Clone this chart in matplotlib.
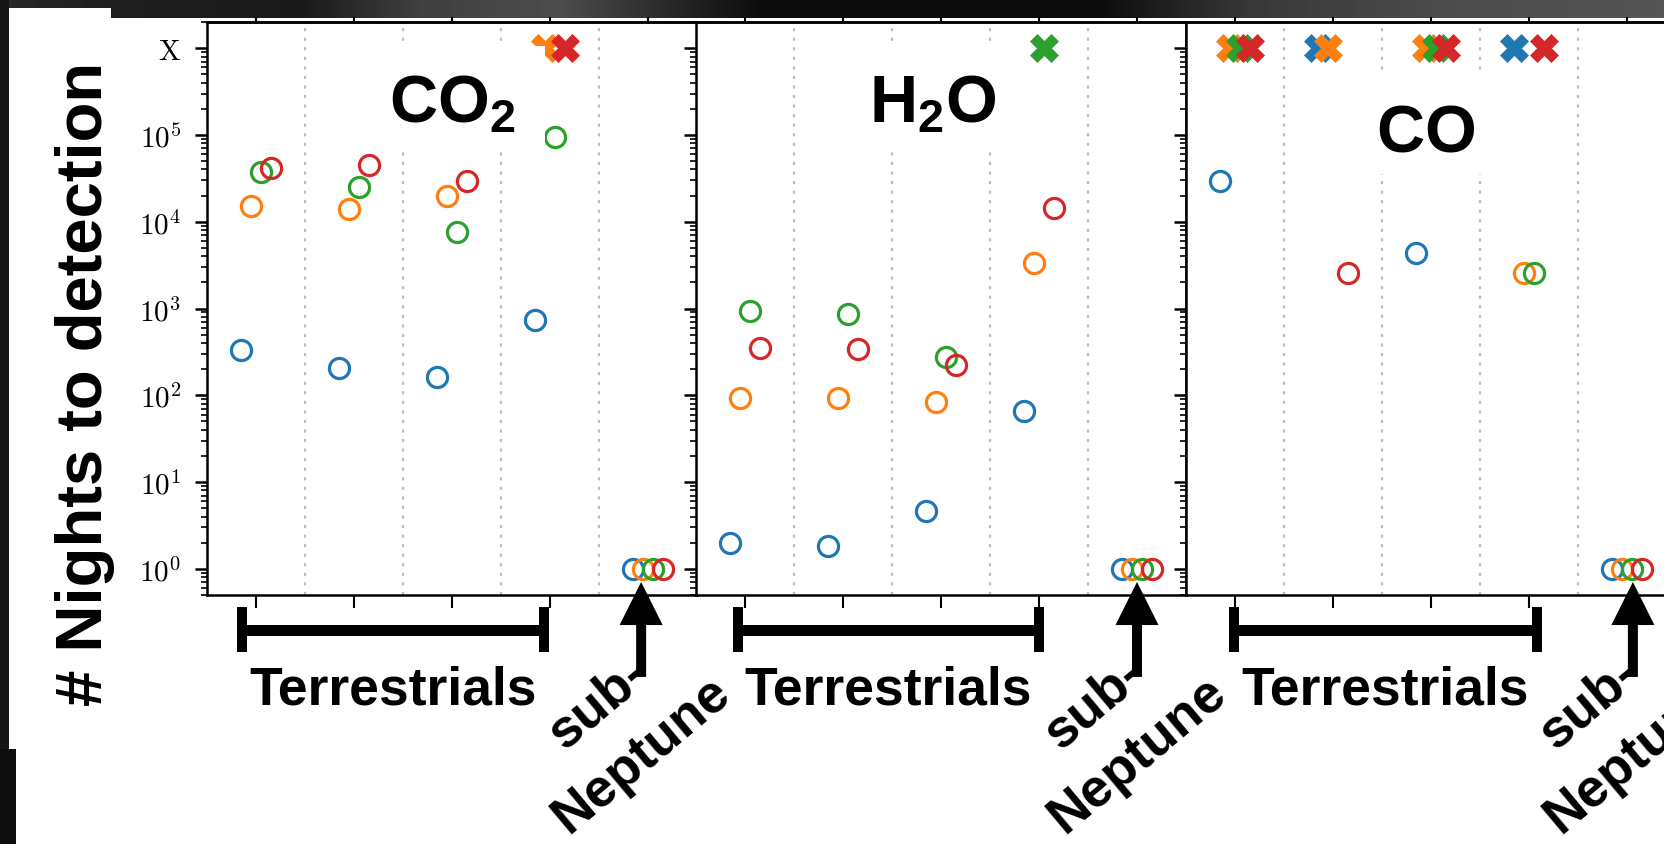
import numpy as np
import matplotlib
matplotlib.use('Agg')
import matplotlib.pyplot as plt
import matplotlib.transforms as mtransforms
from matplotlib.patches import Rectangle
from matplotlib.ticker import NullFormatter, LogLocator

plt.rcParams['font.family'] = ['Liberation Sans', 'DejaVu Sans']
plt.rcParams['mathtext.fontset'] = 'cm'
plt.rcParams['mathtext.bf'] = 'Liberation Sans:bold'
plt.rcParams['mathtext.rm'] = 'Liberation Sans'
plt.rcParams['mathtext.it'] = 'Liberation Sans:italic'

# ---------------- data ----------------
# groups: four terrestrial planets + one sub-Neptune
group_pos = [0, 1, 2, 3, 4]
panel_titles = [r'$\mathbf{CO_2}$', r'$\mathbf{H_2O}$', r'$\mathbf{CO}$']
series_colors = ['#1f77b4', '#ff7f0e', '#2ca02c', '#d62728']
# 'X' = not detected (plotted on the "X" row), None = no point
co2_blue = [330, 205, 163, 730, 1]
co2_orange = [15000, 14000, 19800, 'X', 1]
co2_green = [37000, 25000, 7600, 95000, 1]
co2_red = [41500, 45000, 29500, 'X', 1]

h2o_blue = [2.0, 1.85, 4.7, 66, 1]
h2o_orange = [93, 93, 83, 3300, 1]
h2o_green = [940, 860, 275, 'X', 1]
h2o_red = [350, 338, 223, 14400, 1]

co_blue = [29600, 'X', 4400, 'X', 1]
co_orange = ['X', 'X', 'X', 2570, 1]
co_green = ['X', None, 'X', 2570, 1]
co_red = ['X', 2570, 'X', 'X', 1]

panels = [
    [co2_blue, co2_orange, co2_green, co2_red],
    [h2o_blue, h2o_orange, h2o_green, h2o_red],
    [co_blue, co_orange, co_green, co_red],
]
ytick_values = [1, 10, 100, 1e3, 1e4, 1e5, 1e6]
ytick_labels = [r'$10^{0}$', r'$10^{1}$', r'$10^{2}$', r'$10^{3}$',
                r'$10^{4}$', r'$10^{5}$', r'$\mathrm{X}$']
nondet_value = ytick_values[-1]
ylabel_text = '# Nights to detection'
bracket_text = 'Terrestrials'
arrow_text = 'sub-\nNeptune'

# ---------------- layout ----------------
W, H = 1665, 845
fig = plt.figure(figsize=(W / 100, H / 100), dpi=100)
fig.patch.set_facecolor('white')

def px_rect(x0, y0, x1, y1, color, z=-5):
    fig.add_artist(Rectangle((x0 / W, 1 - y1 / H), (x1 - x0) / W, (y1 - y0) / H,
                             transform=fig.transFigure, facecolor=color,
                             edgecolor='none', zorder=z))

# dark slide background strips
bg = fig.add_axes([0, 1 - 19 / H, 1, 19 / H], zorder=-10)
ctrl_x = [0, 120, 300, 420, 560, 700, 760, 1100, 1250, 1450, 1665]
ctrl_g = [0.16, 0.12, 0.10, 0.25, 0.30, 0.12, 0.05, 0.05, 0.22, 0.30, 0.33]
grad = np.interp(np.arange(W), ctrl_x, ctrl_g)
bg.imshow(grad[None, :], cmap='gray', vmin=0, vmax=1, aspect='auto',
          extent=[0, W, 0, 1])
bg.set_axis_off()
px_rect(0, 0, 9, 750, '#161616')
px_rect(0, 750, 16, H, '#0d0d0d')
px_rect(9, 8.5, 111, 750, 'white', z=-4)

lefts = [207, 696, 1186]
pw = 490
top, bottom = 23, 596
offsets = [-0.15, -0.05, 0.05, 0.15]
title_pos = [(0.50, 0.827), (0.484, 0.827), (0.488, 0.775)]
# white backgrounds behind titles, pixel boxes (x0, y0, x1, y1)
title_boxes = [(361, 47, 545, 148), (845, 47, 1021, 147), (1349, 75, 1503, 175)]
bracket_x0 = [-0.14, -0.07, -0.01]
bracket_x1 = [2.94, 3.00, 3.08]
arrow_x = [3.93, 4.00, 4.06]

for p, series in enumerate(panels):
    L = lefts[p]
    ax = fig.add_axes([L / W, 1 - bottom / H, pw / W, (bottom - top) / H])
    ax.set_yscale('log')
    ax.set_ylim(0.5, 2e6)
    ax.set_xlim(-0.5, 4.5)
    for s in ax.spines.values():
        s.set_linewidth(1.8)

    for xv in [0.5, 1.5, 2.5, 3.5]:
        ax.axvline(xv, color='#bdbdbd', lw=1.6, ls=(0, (1.4, 2.9)), zorder=1)

    for i, vals in enumerate(series):
        c = series_colors[i]
        cx, cy, xx = [], [], []
        for g, v in zip(group_pos, vals):
            if v is None:
                continue
            if v == 'X':
                xx.append(g + offsets[i])
            else:
                cx.append(g + offsets[i])
                cy.append(v)
        ax.plot(cx, cy, 'o', mfc='none', mec=c, ms=14.5, mew=2.3, ls='none',
                zorder=3, clip_on=False)
        if xx:
            ax.plot(xx, [nondet_value] * len(xx), 'X', color=c, mec=c, ms=20,
                    mew=0.5, ls='none', zorder=3, clip_on=False)

    # ticks
    ax.set_xticks(group_pos)
    ax.set_xticklabels([])
    ax.tick_params(axis='x', which='major', direction='out', length=9.4,
                   width=1.5, top=False, bottom=True)
    axt = ax.secondary_xaxis('top')
    axt.set_xticks(group_pos)
    axt.tick_params(axis='x', direction='out', length=3.6, width=1.5,
                    labeltop=False)
    axt.spines['top'].set_linewidth(1.8)

    ax.set_yticks(ytick_values)
    ax.yaxis.set_minor_locator(LogLocator(base=10, subs=np.arange(2, 10),
                                          numticks=20))
    ax.yaxis.set_minor_formatter(NullFormatter())
    if p == 0:
        ax.set_yticklabels(ytick_labels)
    else:
        ax.set_yticklabels([])
    ax.tick_params(axis='y', which='major', direction='out', length=8.6,
                   width=1.8, right=False, labelsize=21, pad=10)
    ax.tick_params(axis='y', which='minor', direction='out', length=4.3,
                   width=1.2, right=False)

    # panel title with white background box
    bx0, by0, bx1, by1 = title_boxes[p]
    ax.add_patch(Rectangle(((bx0 - L) / pw, (bottom - by1) / (bottom - top)),
                           (bx1 - bx0) / pw, (by1 - by0) / (bottom - top),
                           transform=ax.transAxes, facecolor='white',
                           edgecolor='none', zorder=4.5, clip_on=False))
    tx, ty = title_pos[p]
    ax.text(tx, ty, panel_titles[p], transform=ax.transAxes, ha='center',
            va='baseline', fontsize=48, math_fontfamily='custom', zorder=5)

    # annotations below the axes
    blend = mtransforms.blended_transform_factory(ax.transData, ax.transAxes)
    x0, x1 = bracket_x0[p], bracket_x1[p]
    ax.plot([x0, x1], [-0.0611, -0.0611], transform=blend, color='k', lw=7.9,
            solid_capstyle='butt', clip_on=False)
    for xe in (x0, x1):
        ax.plot([xe, xe], [-0.0209, -0.0995], transform=blend, color='k',
                lw=7.2, solid_capstyle='butt', clip_on=False)
    ax.text((x0 + x1) / 2, -0.1885, bracket_text, transform=blend,
            ha='center', va='baseline', fontsize=38.5, fontweight='bold',
            clip_on=False)

    xa = arrow_x[p]
    ax.annotate('', xy=(xa, 0.0227), xytext=(xa, -0.143), xycoords=blend,
                textcoords=blend, annotation_clip=False, zorder=4,
                arrowprops=dict(facecolor='k', edgecolor='none', width=7.2,
                                headwidth=31, headlength=31, shrink=0.0))
    ax.text(xa - 0.22, -0.232, arrow_text, transform=blend, rotation=40,
            rotation_mode='anchor', ha='center', va='center',
            multialignment='center', fontsize=38.5, fontweight='bold',
            linespacing=1.45, clip_on=False)

fig.text(102 / W, 1 - 384 / H, ylabel_text, rotation=90, rotation_mode='anchor',
         ha='center', va='baseline', fontsize=47, fontweight='bold', zorder=10)

fig.savefig('out.png', dpi=100)
